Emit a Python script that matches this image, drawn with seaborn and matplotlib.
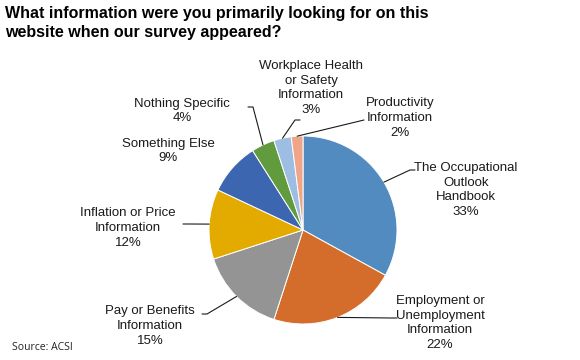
import numpy as np
import seaborn as sns
import matplotlib.pyplot as plt

# data
categories = ['The Occupational\nOutlook\nHandbook', 'Employment or\nUnemployment\nInformation',
              'Pay or Benefits\nInformation', 'Inflation or Price\nInformation', 'Something Else',
              'Nothing Specific', 'Workplace Health\nor Safety\nInformation', 'Productivity\nInformation']
shares = [33, 22, 15, 12, 9, 4, 3, 2]
slice_colors = ['#528BC0', '#D46D2C', '#949494', '#E3AB00', '#3D66B0', '#629B3E', '#9DBDE3', '#F0A488']

# label layout (centre of text block, y up, in figure pixels) and leader elbow
label_pos = [(466, 170), (440, 37), (150, 34), (128, 132), (168, 209), (182, 249), (311, 272), (400, 242)]
elbows = [(410, 190), (392, 42), (207, 46), (188, 136), None, (253, 253), (295, 240), None]

sns.set_theme(style='white')
sns.set_palette(sns.color_palette(slice_colors))
plt.rcParams['font.family'] = ['Liberation Sans', 'DejaVu Sans']

fig = plt.figure(figsize=(5.8, 3.6), dpi=100, facecolor='white')
ax = fig.add_axes([0, 0, 1, 1])

cx, cy, r = 303, 130, 94
wedges, _ = ax.pie(shares, colors=slice_colors, startangle=90, counterclock=False,
                   center=(cx, cy), radius=r, frame=True,
                   wedgeprops=dict(edgecolor='white', linewidth=0.7))
ax.set_xlim(0, 580)
ax.set_ylim(0, 360)
ax.set_aspect('equal')
ax.axis('off')

for w, name, val, pos, elb in zip(wedges, categories, shares, label_pos, elbows):
    mid = np.deg2rad((w.theta1 + w.theta2) / 2)
    edge = (cx + r * np.cos(mid), cy + r * np.sin(mid))
    ax.text(pos[0], pos[1], f'{name}\n{val}%', ha='center', va='center',
            fontsize=9.5, color='#1a1a1a', linespacing=1.3)
    if name.startswith('Productivity'):
        ax.plot([edge[0], 364], [edge[1], 240], color='#1a1a1a', lw=0.8)
    elif elb is not None:
        side = -1 if elb[0] < edge[0] else 1
        ax.plot([edge[0], elb[0], elb[0] + side * 5], [edge[1], elb[1], elb[1]],
                color='#1a1a1a', lw=0.8)

fig.text(0.009, 0.982, 'What information were you primarily looking for on this\nwebsite when our survey appeared?',
         ha='left', va='top', fontsize=11.5, fontweight='bold', color='black', linespacing=1.3)
fig.text(0.02, 0.02, 'Source: ACSI', ha='left', va='bottom', fontsize=7.5,
         family=['Open Sans', 'DejaVu Sans'], color='#222222')

plt.savefig('out.png', dpi=100, facecolor='white')
